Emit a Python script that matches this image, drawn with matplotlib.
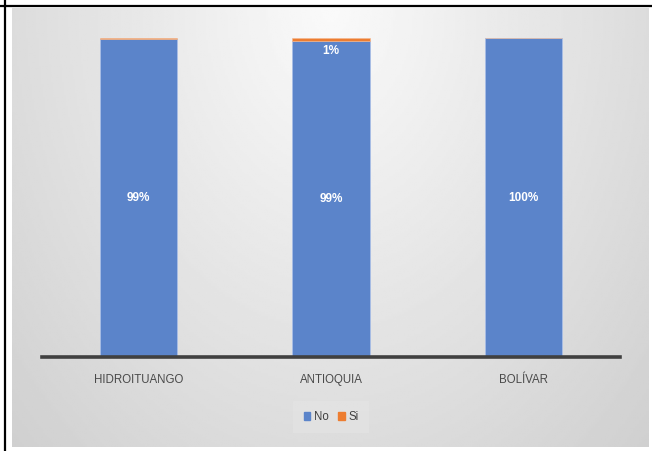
import numpy as np
import matplotlib
matplotlib.use("Agg")
import matplotlib.pyplot as plt
from matplotlib.lines import Line2D
from matplotlib.patches import Patch

categories = ["HIDROITUANGO", "ANTIOQUIA", "BOLÍVAR"]
no_vals = [99.4, 99.0, 99.8]
si_vals = [0.6, 1.0, 0.2]

BLUE = "#5B84CA"
ORANGE = "#ED7D31"
FONT = ["Liberation Sans", "DejaVu Sans"]

W, H = 652, 451
fig = plt.figure(figsize=(W / 100, H / 100), dpi=100)

# gradient background of the chart area
bg = fig.add_axes([12 / W, 1 - 447 / H, (649 - 12) / W, (447 - 8) / H], zorder=-2)
yy, xx = np.mgrid[0:1:200j, 0:1:300j]
d = np.sqrt(((xx - 0.5) / 0.6) ** 2 + ((yy - 0.0) / 1.2) ** 2)
shade = np.clip(250 - 36 * d, 203, 250) / 255
bg.imshow(shade, cmap="gray", vmin=0, vmax=1, aspect="auto", extent=[0, 1, 1, 0])
bg.set_axis_off()

ax = fig.add_axes([42 / W, 1 - 357 / H, 578 / W, (357 - 37.5) / H])
ax.patch.set_alpha(0)
x = np.arange(len(categories))
ax.bar(x, no_vals, width=0.40, color=BLUE, edgecolor="#A9BEE6", linewidth=0.6, label="No")
ax.bar(x, si_vals, width=0.40, bottom=no_vals, color=ORANGE, edgecolor="#F4B78E",
       linewidth=0.4, label="Si")

for i in range(len(categories)):
    ax.text(x[i], no_vals[i] / 2, f"{round(no_vals[i])}%", ha="center", va="center",
            color="white", fontsize=8.5, fontweight="bold", family=FONT)
    if si_vals[i] >= 1:
        ax.annotate(f"{round(si_vals[i])}%", (x[i], no_vals[i] + si_vals[i]),
                    xytext=(0, -10), textcoords="offset points", ha="center", va="center",
                    color="white", fontsize=8.5, fontweight="bold", family=FONT)

ax.set_xlim(-0.5, 2.5)
ax.set_ylim(0, 100)
ax.set_xticks(x)
ax.set_xticklabels(categories, color="#4A4A4A", fontsize=8.3, family=FONT)
ax.tick_params(axis="x", length=0, pad=12)
ax.set_yticks([])
for s in ["top", "right", "left"]:
    ax.spines[s].set_visible(False)
ax.spines["bottom"].set_color("#404040")
ax.spines["bottom"].set_linewidth(2.6)

handles = [Patch(color=BLUE), Patch(color=ORANGE)]
leg = fig.legend(handles, ["No", "Si"], loc="center", bbox_to_anchor=(331 / W, 1 - 417 / H),
                 ncol=2, frameon=True, fancybox=False, handlelength=0.6, handleheight=0.6,
                 handletextpad=0.3, columnspacing=0.8, borderpad=0.9,
                 prop={"family": FONT, "size": 8.3})
leg.get_frame().set_facecolor("#E3E3E3")
leg.get_frame().set_edgecolor("none")
for t in leg.get_texts():
    t.set_color("#404040")

# table cell borders
fig.add_artist(Line2D([0, 651 / W], [1 - 6 / H, 1 - 6 / H], color="black", linewidth=1.6))
fig.add_artist(Line2D([4.5 / W, 4.5 / W], [0, 1], color="black", linewidth=1.6))

fig.savefig("out.png", dpi=100, facecolor="white")
